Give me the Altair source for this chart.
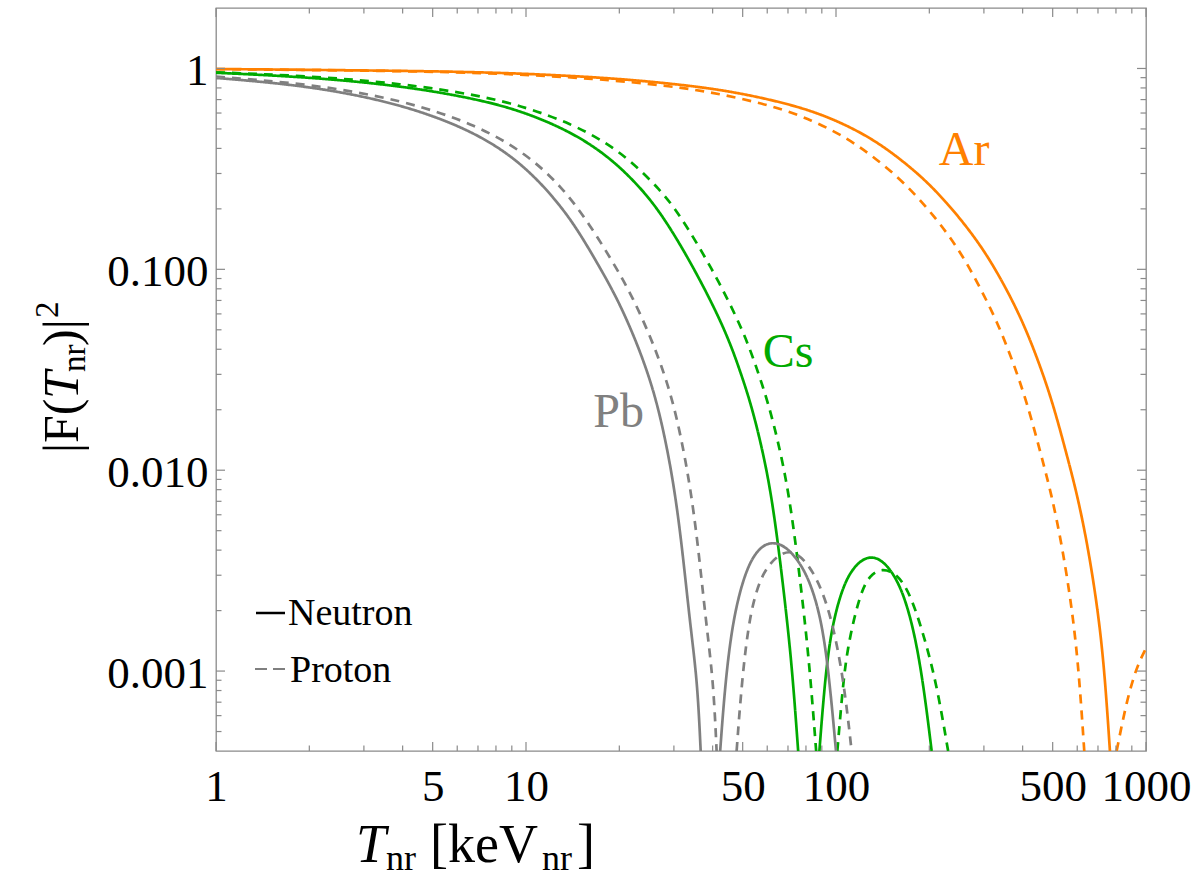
import altair as alt
import pandas as pd

# ---- form-factor curves |F(T_nr)|^2, one list per branch between zeros ----
AR_N_T = [[1, 5, 10, 20, 35, 50, 75, 100, 130, 160, 200, 250, 300, 350, 400, 450, 500, 550, 600, 650, 700, 735, 765]]
AR_N_F = [[0.994, 0.972, 0.944, 0.892, 0.818, 0.751, 0.651, 0.554, 0.450, 0.358, 0.268, 0.182, 0.125, 0.0832,
           0.0551, 0.0349, 0.0217, 0.0126, 0.00756, 0.00414, 0.0020, 0.001, 0.0004]]

AR_P_T = [[1, 4.18, 8.37, 16.7, 29.3, 41.8, 62.8, 83.7, 108.8, 133.9, 167.4, 208.9, 250, 289.3, 330.6, 371.9,
           413.2, 454.5, 495.9, 537.2, 578.5, 607.4, 632.2],
          [804, 866, 933, 1000]]
AR_P_F = [[0.993, 0.972, 0.944, 0.892, 0.818, 0.751, 0.651, 0.554, 0.450, 0.358, 0.268, 0.182, 0.125, 0.0832,
           0.0551, 0.0349, 0.0217, 0.0126, 0.00756, 0.00414, 0.0020, 0.001, 0.0004],
          [0.0004, 0.00071, 0.00105, 0.0013]]

CS_N_T = [[1, 2, 4, 7, 10, 14, 18, 22, 27, 34.7, 44.0, 49.5, 53.9, 60.0, 64.3, 69.0, 72.3, 75.5],
          [88.4, 91.0, 95.6, 105.6, 116.6, 128, 142, 160.9, 177.6, 191.3, 203.5]]
CS_N_F = [[0.952, 0.906, 0.819, 0.704, 0.604, 0.482, 0.375, 0.283, 0.197, 0.103, 0.05, 0.03, 0.02, 0.01,
           0.005, 0.002, 0.001, 0.0004],
          [0.0004, 0.00072, 0.00154, 0.00274, 0.00344, 0.00375, 0.00358, 0.00274, 0.00167, 0.00087, 0.0004]]

CS_P_T = [[1, 2, 4, 7, 10, 14, 18, 22, 27, 31, 39.6, 50.2, 56.4, 61.4, 68.4, 73.3, 78.7, 82.4, 86.3],
          [101, 104.3, 108.3, 119.5, 128.7, 140.4, 157, 173.3, 191.3, 211, 230]]
CS_P_F = [[0.957, 0.918, 0.841, 0.737, 0.642, 0.530, 0.431, 0.342, 0.250, 0.192, 0.103, 0.05, 0.03, 0.02,
           0.01, 0.005, 0.002, 0.001, 0.0004],
          [0.0004, 0.00072, 0.00128, 0.00244, 0.00301, 0.00325, 0.00307, 0.00244, 0.00154, 0.00087, 0.0004]]

PB_N_T = [[1, 2, 4, 7, 10, 13, 15, 17.45, 19.7, 22.1, 24.2, 26.5, 29.1, 31.4, 33.8, 35.7, 36.6],
          [42.3, 43.9, 46.6, 51.5, 56.9, 62.5, 69.3, 78.5, 86.6, 93.3, 100]]
PB_N_F = [[0.897, 0.821, 0.665, 0.478, 0.325, 0.206, 0.149, 0.1, 0.0713, 0.0481, 0.0335, 0.0217, 0.0112,
           0.0052, 0.00173, 0.000896, 0.0004],
          [0.0004, 0.00087, 0.00187, 0.00331, 0.00417, 0.00441, 0.00417, 0.00331, 0.00226, 0.00128, 0.0004]]

PB_P_T = [[1, 2, 4, 7, 10, 13, 16, 19.7, 22.2, 24.9, 27.3, 29.9, 32.8, 35.4, 38.1, 40.2, 41.2],
          [47.8, 49.6, 52.8, 58.3, 65.9, 73.7, 84.5, 95.6, 105.6, 112.3]]
PB_P_F = [[0.91, 0.839, 0.698, 0.521, 0.377, 0.260, 0.169, 0.1, 0.0713, 0.0481, 0.0335, 0.0217, 0.0112,
           0.0052, 0.00173, 0.000896, 0.0004],
          [0.0004, 0.00087, 0.00202, 0.00319, 0.00386, 0.00401, 0.00319, 0.00202, 0.00094, 0.0004]]

NUCLEI = ["Ar", "Cs", "Pb"]
COLORS = ["#FF8000", "#00AA00", "#808080"]

# curve labels: name, T, |F|^2 at the label baseline
LABELS = [("Ar", 259, 0.331), ("Cs", 70.0, 0.0327), ("Pb", 19.9, 0.0164)]

# axis ticks
X_MAJOR = [1, 5, 10, 50, 100, 500, 1000]
X_MINOR = [2, 3, 4, 6, 7, 8, 9, 20, 30, 40, 60, 70, 80, 90, 200, 300, 400, 600, 700, 800, 900]
Y_MAJOR = [1, 0.1, 0.01, 0.001]
Y_MINOR = [0.0005, 0.0006, 0.0007, 0.0008, 0.0009,
           0.002, 0.003, 0.004, 0.005, 0.006, 0.007, 0.008, 0.009,
           0.02, 0.03, 0.04, 0.05, 0.06, 0.07, 0.08, 0.09,
           0.2, 0.3, 0.4, 0.5, 0.6, 0.7, 0.8, 0.9]

W, H = 930, 743
SERIF = "Liberation Serif"
FRAME = "#8a8a8a"

curves = [
    ("Ar", "Neutron", AR_N_T, AR_N_F), ("Ar", "Proton", AR_P_T, AR_P_F),
    ("Cs", "Neutron", CS_N_T, CS_N_F), ("Cs", "Proton", CS_P_T, CS_P_F),
    ("Pb", "Neutron", PB_N_T, PB_N_F), ("Pb", "Proton", PB_P_T, PB_P_F),
]
rows = []
for nuc, kind, ts, fs in curves:
    for k, (tt, ff) in enumerate(zip(ts, fs)):
        for t, f in zip(tt, ff):
            rows.append({"T": t, "F": f, "nucleus": nuc, "kind": kind, "seg": f"{nuc}-{kind}-{k}"})
df = pd.DataFrame(rows)

xs = alt.Scale(type="log", domain=[1, 1000], nice=False)
ys = alt.Scale(type="log", domain=[0.0004, 2], nice=False)

# one shared axis definition per direction, reused by every layer
x_axis = alt.Axis(values=X_MAJOR, labelExpr="format(datum.value, 'd')", labelFont=SERIF,
                  labelFontSize=45, labelColor="black", labelFlush=False, labelOverlap=False,
                  ticks=False, tickSize=0, domain=False, grid=False, title=None, labelPadding=13)
y_axis = alt.Axis(values=Y_MAJOR, labelExpr="datum.value >= 1 ? '1' : format(datum.value, '.3f')",
                  labelFont=SERIF, labelFontSize=45, labelColor="black", labelFlush=False,
                  labelOverlap=False, ticks=False, tickSize=0, domain=False, grid=False,
                  title=None, labelPadding=8, labelOffset=2)

lines = alt.Chart(df).mark_line(clip=True, strokeWidth=2.7, interpolate="basis").encode(
    x=alt.X("T:Q", scale=xs, axis=x_axis),
    y=alt.Y("F:Q", scale=ys, axis=y_axis),
    color=alt.Color("nucleus:N", scale=alt.Scale(domain=NUCLEI, range=COLORS), legend=None),
    strokeDash=alt.StrokeDash("kind:N", scale=alt.Scale(domain=["Neutron", "Proton"],
                                                        range=[[1, 0], [9, 7]]), legend=None),
    detail="seg:N",
)

lab_df = pd.DataFrame(LABELS, columns=["name", "T", "F"])
curve_labels = alt.Chart(lab_df).mark_text(font=SERIF, fontSize=48, align="center",
                                           baseline="alphabetic").encode(
    x=alt.X("T:Q", scale=xs, axis=x_axis),
    y=alt.Y("F:Q", scale=ys, axis=y_axis),
    text="name:N",
    color=alt.Color("name:N", scale=alt.Scale(domain=NUCLEI, range=COLORS), legend=None),
)


def xticks(vals, length):
    d = pd.DataFrame({"T": vals})
    bottom = alt.Chart(d).mark_rule(color=FRAME, strokeWidth=1.2).encode(
        x=alt.X("T:Q", scale=xs, axis=x_axis), y=alt.value(H), y2=alt.value(H - length))
    top = alt.Chart(d).mark_rule(color=FRAME, strokeWidth=1.2).encode(
        x=alt.X("T:Q", scale=xs, axis=x_axis), y=alt.value(0), y2=alt.value(length))
    return [bottom, top]


def yticks(vals, length):
    d = pd.DataFrame({"F": vals})
    left = alt.Chart(d).mark_rule(color=FRAME, strokeWidth=1.2).encode(
        y=alt.Y("F:Q", scale=ys, axis=y_axis), x=alt.value(0), x2=alt.value(length))
    right = alt.Chart(d).mark_rule(color=FRAME, strokeWidth=1.2).encode(
        y=alt.Y("F:Q", scale=ys, axis=y_axis), x=alt.value(W), x2=alt.value(W - length))
    return [left, right]


ticks = xticks(X_MAJOR, 9) + xticks(X_MINOR, 5.5) + yticks(Y_MAJOR, 9) + yticks(Y_MINOR, 5.5)


def txt(s, x, y, size, italic=False, angle=0, color="black"):
    opts = dict(font=SERIF, fontSize=size, align="left", baseline="alphabetic", color=color)
    if italic:
        opts["fontStyle"] = "italic"
    if angle:
        opts["angle"] = angle
    return alt.Chart(pd.DataFrame({"t": [s]})).mark_text(**opts).encode(
        x=alt.value(x), y=alt.value(y), text="t:N")


# x-axis title: T_nr [keV_nr]
xtitle = [
    txt("T", 140, 854, 54, italic=True),
    txt("nr", 170, 862, 36),
    txt("[keV", 214, 854, 54),
    txt("nr", 326, 862, 36),
    txt("]", 361, 854, 54),
]
# y-axis title: |F(T_nr)|^2, reading upward
ytitle = [
    txt("|F(", -138, 445, 50, angle=270),
    txt("T", -138, 391, 50, italic=True, angle=270),
    txt("nr", -131, 364, 33, angle=270),
    txt(")|", -138, 338, 50, angle=270),
    txt("2", -158, 310, 33, angle=270),
]

# legend for line styles
legend = [
    alt.Chart(pd.DataFrame({"a": [0]})).mark_rule(color="black", strokeWidth=2.5).encode(
        x=alt.value(40), x2=alt.value(69), y=alt.value(605)),
    alt.Chart(pd.DataFrame({"a": [0]})).mark_rule(color="#555555", strokeWidth=1.5).encode(
        x=alt.value(39), x2=alt.value(51), y=alt.value(661)),
    alt.Chart(pd.DataFrame({"a": [0]})).mark_rule(color="#555555", strokeWidth=1.5).encode(
        x=alt.value(57), x2=alt.value(69), y=alt.value(661)),
    txt("Neutron", 72, 617, 38),
    txt("Proton", 74, 674, 38),
]

chart = alt.layer(lines, *ticks, curve_labels, *xtitle, *ytitle, *legend).properties(
    width=W, height=H,
    autosize=alt.AutoSizeParams(type="none"),
    padding={"left": 216, "top": 8, "right": 52, "bottom": 128},
).configure_view(stroke=FRAME, strokeWidth=1.3)

chart.save("out.html", embed_options={"renderer": "svg", "actions": False})
